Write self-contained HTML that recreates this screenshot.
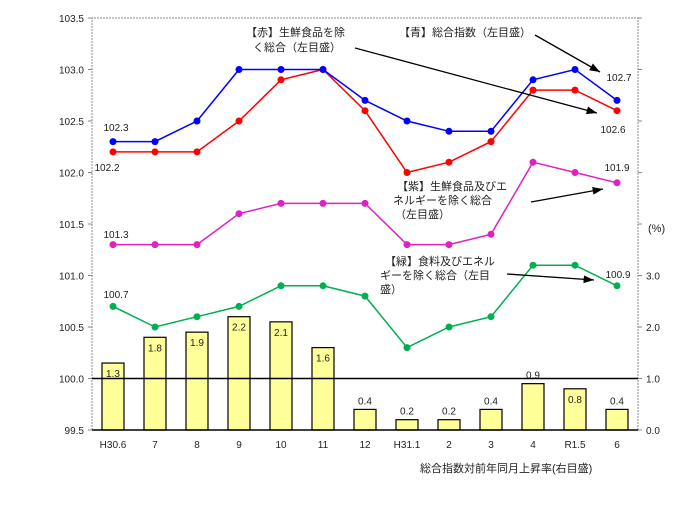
<!DOCTYPE html>
<html><head><meta charset="utf-8"><style>
body{margin:0;background:#fff;width:680px;height:519px;overflow:hidden}
svg{font-family:"Liberation Sans","Noto Sans CJK JP",sans-serif}
</style></head><body>
<svg id="c" width="680" height="519" xmlns="http://www.w3.org/2000/svg">
<defs><marker id="ah" markerWidth="8" markerHeight="6" refX="8" refY="3" orient="auto"><path d="M0,0L8,3L0,6z" fill="#000"/></marker></defs>
</svg>
<script>
const categories=["H30.6","7","8","9","10","11","12","H31.1","2","3","4","R1.5","6"];
const barValues=[1.3,1.8,1.9,2.2,2.1,1.6,0.4,0.2,0.2,0.4,0.9,0.8,0.4];
const blueValues=[102.3,102.3,102.5,103.0,103.0,103.0,102.7,102.5,102.4,102.4,102.9,103.0,102.7];
const redValues=[102.2,102.2,102.2,102.5,102.9,103.0,102.6,102.0,102.1,102.3,102.8,102.8,102.6];
const purpleValues=[101.3,101.3,101.3,101.6,101.7,101.7,101.7,101.3,101.3,101.4,102.1,102.0,101.9];
const greenValues=[100.7,100.5,100.6,100.7,100.9,100.9,100.8,100.3,100.5,100.6,101.1,101.1,100.9];
const leftTicks=[99.5,100.0,100.5,101.0,101.5,102.0,102.5,103.0,103.5];
const rightTicks=[0,1,2,3];
const svg=document.getElementById('c');
const NS='http://www.w3.org/2000/svg';
const X0=92,X1=638,Y0=430,Y1=18;
const band=(X1-X0)/categories.length;
const xc=i=>X0+band*(i+0.5);
const yL=v=>Y0-(v-99.5)/4*(Y0-Y1);
const yR=v=>Y0-v/8*(Y0-Y1);
function mk(t,a,txt){const e=document.createElementNS(NS,t);for(const k in a)e.setAttribute(k,a[k]);if(txt!==undefined)e.textContent=txt;svg.appendChild(e);return e;}
let e=mk('path',{d:`M${X0},${Y0}V${Y1}H${X1}V${Y0}`,fill:'none',stroke:'#888','stroke-dasharray':'2,1'});


leftTicks.forEach(v=>{
 let t=mk('line',{x1:X0-4,x2:X0,y1:yL(v),y2:yL(v),stroke:'#888'});
 
 
 let l=mk('text',{x:X0-8,y:yL(v)+4,'font-size':10,'text-anchor':'end',fill:'#222'},v.toFixed(1));
 
 
});
for(let v=0;v<=8;v++){
 let t=mk('line',{x1:X1,x2:X1+4,y1:yR(v),y2:yR(v),stroke:'#888'});
 
 
}
rightTicks.forEach(v=>{
 let l=mk('text',{x:X1+8,y:yR(v)+4,'font-size':10,fill:'#222'},v.toFixed(1));
 
 
});
e=mk('text',{x:648,y:232,'font-size':11,fill:'#222'},'(%)');


barValues.forEach((v,i)=>{
 let b=mk('rect',{x:xc(i)-11,y:yR(v),width:22,height:Y0-yR(v),fill:'#ffff99',stroke:'#000','stroke-width':1.2});
 
 
 let inside=v>=0.8&&i!=10;
 let l=mk('text',{x:xc(i),y:inside?yR(v)+14:yR(v)-5,'font-size':10,'text-anchor':'middle',fill:'#222'},v.toFixed(1));
 
 
});
e=mk('line',{x1:X0,x2:X1,y1:yL(100),y2:yL(100),stroke:'#000','stroke-width':1.5});


e=mk('line',{x1:X0,x2:X1,y1:Y0,y2:Y0,stroke:'#000','stroke-width':1.5});


categories.forEach((c,i)=>{
 let l=mk('text',{x:xc(i),y:448,'font-size':10,'text-anchor':'middle',fill:'#222'},c);
 
 
});
function series(vals,col,name){
 let p=mk('polyline',{points:vals.map((v,i)=>xc(i)+','+yL(v)).join(' '),fill:'none',stroke:col,'stroke-width':1.5});
 
 
 vals.forEach((v,i)=>{
  let c=mk('circle',{cx:xc(i),cy:yL(v),r:3.5,fill:col});
  
  
 });
}
series(greenValues,'#00b050','green');
series(purpleValues,'#e020c0','purple');
series(redValues,'#ff0000','red');
series(blueValues,'#0000ff','blue');
const labels=[[116,131,'102.3'],[107,171,'102.2'],[116,238,'101.3'],[116,298,'100.7'],[619,81,'102.7'],[613,133,'102.6'],[617,171,'101.9'],[618,278,'100.9']];
labels.forEach(a=>{let l=mk('text',{x:a[0],y:a[1],'font-size':10,'text-anchor':'middle',fill:'#222'},a[2]);
 
 });
const notes=[[246,36,'【赤】生鮮食品を除'],[253,51,'く総合（左目盛）'],[399,36,'【青】総合指数（左目盛）'],[397,190,'【紫】生鮮食品及びエ'],[393,204,'ネルギーを除く総合'],[395,218,'（左目盛）'],[385,265,'【緑】食料及びエネル'],[380,279,'ギーを除く総合（左目'],[380,293,'盛）'],[420,472,'総合指数対前年同月上昇率(右目盛)']];
notes.forEach(a=>{let l=mk('text',{x:a[0],y:a[1],'font-size':11,fill:'#222'},a[2]);
 
 });
const arrows=[[355,48,597,113],[535,35,600,72],[531,202,603,189],[507,274,594,280]];
arrows.forEach(a=>{let l=mk('line',{x1:a[0],y1:a[1],x2:a[2],y2:a[3],stroke:'#000','stroke-width':1.3,'marker-end':'url(#ah)'});
 
 });
</script>
</body></html>
